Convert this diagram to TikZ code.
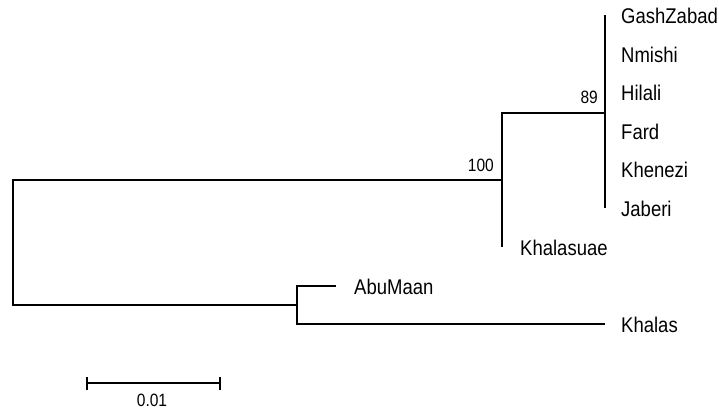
\documentclass[tikz,border=0pt]{standalone}
\usepackage{fontspec}
\usepackage{graphicx}
\setmainfont{Liberation Sans}
\usetikzlibrary{calc}
\newcommand\talltxt[1]{\scalebox{1}[1.15]{#1}}
\begin{document}
\begin{tikzpicture}[x=1pt,y=-1pt,
  branch/.style={line width=1.3pt,black},
  leaf/.style={anchor=base west,inner sep=0pt,font=\fontsize{18.5}{20}\selectfont},
  boot/.style={anchor=base east,inner sep=0pt,font=\fontsize{15.5}{17}\selectfont},
  scalelbl/.style={anchor=base,inner sep=0pt,font=\fontsize{15.5}{17}\selectfont}]
\useasboundingbox (0,0) rectangle (719,410);
% internal nodes
\coordinate (R) at (13,243);
\coordinate (N100) at (502,180);
\coordinate (N89) at (605,113);
\coordinate (NA) at (297,305);
% leaf tips
\coordinate (tGZ) at (605,15);
\coordinate (tNM) at (605,53.6);
\coordinate (tHI) at (605,92.2);
\coordinate (tFA) at (605,130.8);
\coordinate (tKH) at (605,169.4);
\coordinate (tJA) at (605,208);
\coordinate (tKU) at (502,246.6);
\coordinate (tAB) at (336,286);
\coordinate (tKS) at (605,324);
% labels
\node[leaf] (GZ) at (621,23.5) {\talltxt{GashZabad}};
\node[leaf] (NM) at (621,62.1) {\talltxt{Nmishi}};
\node[leaf] (HI) at (621,100.7) {\talltxt{Hilali}};
\node[leaf] (FA) at (621,139.3) {\talltxt{Fard}};
\node[leaf] (KH) at (621,177.9) {\talltxt{Khenezi}};
\node[leaf] (JA) at (621,216.5) {\talltxt{Jaberi}};
\node[leaf] (KU) at (520,255.6) {\talltxt{Khalasuae}};
\node[leaf] (AB) at (354,294.5) {\talltxt{AbuMaan}};
\node[leaf] (KS) at (621,332.5) {\talltxt{Khalas}};
% branches
\draw[branch] (R) |- (N100);
\draw[branch] (R) |- (NA);
\draw[branch] (N100) |- (N89);
\draw[branch] (N100) |- (tKU);
\draw[branch] (N89) |- (tGZ);
\draw[branch] (N89) |- (tJA);
\draw[branch] (NA) |- (tAB);
\draw[branch] (NA) |- (tKS);
% bootstrap values
\node[boot] (b89) at ($(N89)+(-7,-10)$) {\talltxt{89}};
\node[boot] (b100) at ($(N100)+(-8,-8.5)$) {\talltxt{100}};
% scale bar
\coordinate (s1) at (87,383);
\coordinate (s2) at (220,383);
\draw[branch] (s1) -- (s2);
\draw[branch] ($(s1)+(0,-6)$) -- ($(s1)+(0,7)$);
\draw[branch] ($(s2)+(0,-6)$) -- ($(s2)+(0,7)$);
\node[scalelbl] (sl) at (152,406.5) {\talltxt{0.01}};
\end{tikzpicture}
\end{document}
